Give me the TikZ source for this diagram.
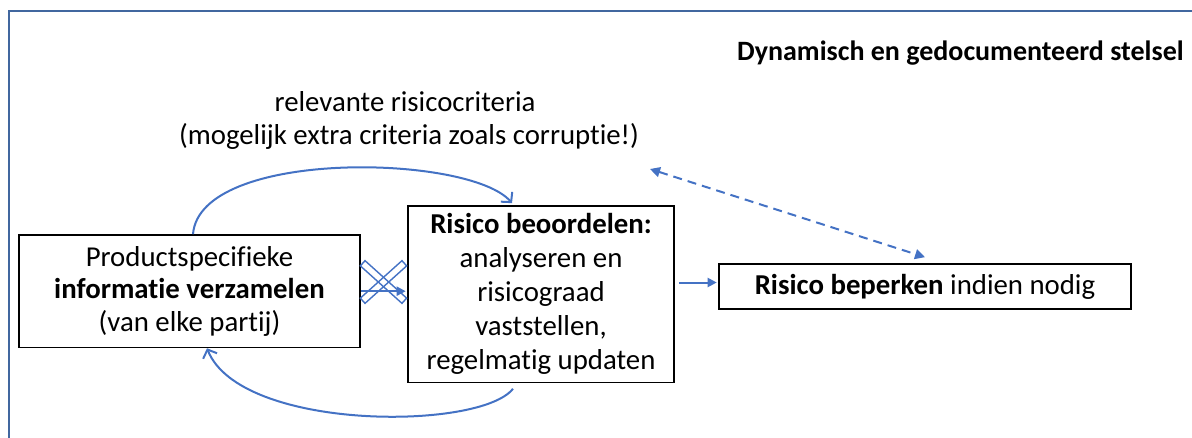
\documentclass[tikz,border=0pt]{standalone}
\usepackage{fontspec}
\setmainfont{Carlito}[Ligatures=NoCommon]
\usetikzlibrary{arrows.meta}
\definecolor{arrblue}{HTML}{4472C4}
\definecolor{framecol}{HTML}{41679F}
\begin{document}
\begin{tikzpicture}[x=1pt,y=-1pt,
  box/.style={draw=black, line width=1.6pt, inner sep=0pt, align=center},
  lbl/.style={inner sep=0pt, font=\fontsize{28.8}{33}\selectfont},
  flow/.style={draw=arrblue, line width=2pt, -{Triangle[length=9pt,width=9pt]}},
  loop/.style={draw=arrblue, line width=2pt, -{Straight Barb[length=7pt,width=15pt,line width=2pt]}},
  dasharr/.style={draw=arrblue, line width=2pt, dash pattern=on 9pt off 6pt,
    {Triangle[length=10pt,width=10pt]}-{Triangle[length=10pt,width=10pt]}},
  crossbar/.style={draw=arrblue, line width=1.4pt, minimum width=56pt, minimum height=7pt, inner sep=0pt}]
\useasboundingbox (0,0) rectangle (1192,437);
% frame
\draw[framecol, line width=1.5pt] (9,440) -- (9,11) -- (1196,11);
% title
\node[lbl, anchor=base west, font=\fontsize{28}{32}\selectfont\bfseries] (title) at (737,60) {Dynamisch en gedocumenteerd stelsel};
% criteria text
\node[lbl, anchor=base] (crit1) at (405,111) {relevante risicocriteria};
\node[lbl, anchor=base] (crit2) at (409,144) {(mogelijk extra criteria zoals corruptie!)};
% boxes
\node[box, minimum width=341pt, minimum height=112.5pt, font=\fontsize{28.8}{32.3}\selectfont] (b1) at (189.5,291.2)
  {Productspecifieke\\\textbf{informatie verzamelen}\\(van elke partij)};
\node[box, minimum width=266pt, minimum height=176.5pt, font=\fontsize{28.8}{34}\selectfont] (b2) at (541,294.2)
  {\textbf{Risico beoordelen:}\\analyseren en\\risicograad\\vaststellen,\\regelmatig updaten};
\node[box, minimum width=412pt, minimum height=45pt, font=\fontsize{28.8}{33}\selectfont] (b3) at (925,286.5)
  {\textbf{Risico beperken} indien nodig};
% crossed-out arrow
\node[crossbar, rotate=-42] (xa) at (383.5,282) {};
\node[crossbar, rotate=42] (xb) at (383.5,282) {};
\draw[flow, shorten >=1.5pt] (b1.east) -- (b1.east -| b2.west);
% arrow to b3
\coordinate (a3) at ([yshift=4pt]b3.west);
\draw[flow, shorten <=4pt, shorten >=1.5pt] (a3 -| b2.east) -- (a3);
% loops
\draw[loop] ([xshift=3.5pt]b1.north) .. controls +(7,-86) and +(-42,-49) .. ([xshift=-29pt,yshift=2pt]b2.north);
\draw[loop] ([xshift=-28pt,yshift=-5.5pt]b2.south) .. controls +(-33,42) and +(33,83) .. ([xshift=17.5pt]b1.south);
% dashed double arrow
\coordinate (d1) at (650,169);
\draw[dasharr] (d1) -- ([yshift=6pt]b3.north);
\end{tikzpicture}
\end{document}
